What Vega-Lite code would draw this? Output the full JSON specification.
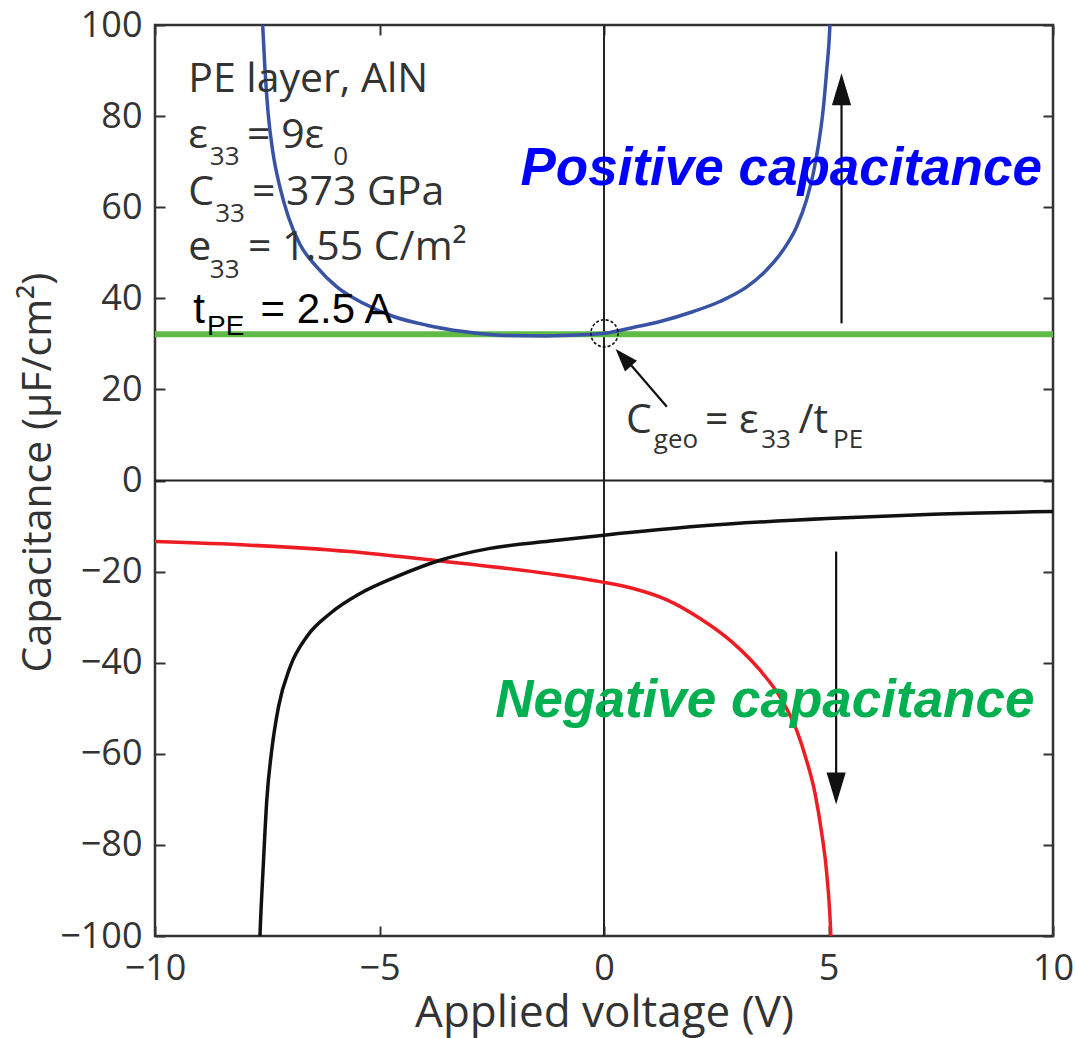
{
  "$schema": "https://vega.github.io/schema/vega-lite/v6.json",
  "width": 898,
  "height": 911,
  "autosize": "none",
  "padding": {"left": 155, "top": 25, "right": 22, "bottom": 102},
  "background": "white",
  "datasets": {
    "curves": [
      {"series": "pos", "V": -7.64, "C": 105},
      {"series": "pos", "V": -7.6, "C": 99.6},
      {"series": "pos", "V": -7.55, "C": 90.1},
      {"series": "pos", "V": -7.48, "C": 80.6},
      {"series": "pos", "V": -7.37, "C": 71.8},
      {"series": "pos", "V": -7.22, "C": 64.5},
      {"series": "pos", "V": -7.03, "C": 57.9},
      {"series": "pos", "V": -6.77, "C": 51.8},
      {"series": "pos", "V": -6.4, "C": 46.9},
      {"series": "pos", "V": -5.95, "C": 42.5},
      {"series": "pos", "V": -5.36, "C": 38.9},
      {"series": "pos", "V": -4.69, "C": 36.0},
      {"series": "pos", "V": -3.95, "C": 34.1},
      {"series": "pos", "V": -3.13, "C": 32.7},
      {"series": "pos", "V": -2.32, "C": 31.9},
      {"series": "pos", "V": -1.3, "C": 31.75},
      {"series": "pos", "V": -0.5, "C": 32.0},
      {"series": "pos", "V": 0.06, "C": 32.4},
      {"series": "pos", "V": 0.65, "C": 33.6},
      {"series": "pos", "V": 1.25, "C": 34.9},
      {"series": "pos", "V": 1.99, "C": 37.1},
      {"series": "pos", "V": 2.58, "C": 39.3},
      {"series": "pos", "V": 3.18, "C": 42.5},
      {"series": "pos", "V": 3.62, "C": 46.2},
      {"series": "pos", "V": 3.99, "C": 50.6},
      {"series": "pos", "V": 4.29, "C": 55.7},
      {"series": "pos", "V": 4.51, "C": 61.6},
      {"series": "pos", "V": 4.66, "C": 67.4},
      {"series": "pos", "V": 4.77, "C": 73.3},
      {"series": "pos", "V": 4.88, "C": 81.3},
      {"series": "pos", "V": 4.96, "C": 90.1},
      {"series": "pos", "V": 5.03, "C": 99.6},
      {"series": "pos", "V": 5.05, "C": 105},
      {"series": "red", "V": -10, "C": -13.4},
      {"series": "red", "V": -7.88, "C": -14.2},
      {"series": "red", "V": -5.66, "C": -15.6},
      {"series": "red", "V": -3.8, "C": -17.5},
      {"series": "red", "V": -1.2, "C": -20.5},
      {"series": "red", "V": -0.09, "C": -22.2},
      {"series": "red", "V": 0.65, "C": -23.7},
      {"series": "red", "V": 1.4, "C": -26.2},
      {"series": "red", "V": 2.14, "C": -30.3},
      {"series": "red", "V": 2.88, "C": -35.7},
      {"series": "red", "V": 3.47, "C": -41.6},
      {"series": "red", "V": 3.92, "C": -47.5},
      {"series": "red", "V": 4.29, "C": -54.8},
      {"series": "red", "V": 4.51, "C": -61.4},
      {"series": "red", "V": 4.7, "C": -68.7},
      {"series": "red", "V": 4.85, "C": -77.5},
      {"series": "red", "V": 4.96, "C": -86.2},
      {"series": "red", "V": 5.05, "C": -99.4},
      {"series": "red", "V": 5.07, "C": -105},
      {"series": "black", "V": -7.68, "C": -105},
      {"series": "black", "V": -7.66, "C": -99.4},
      {"series": "black", "V": -7.59, "C": -84.8},
      {"series": "black", "V": -7.51, "C": -70.1},
      {"series": "black", "V": -7.4, "C": -59.2},
      {"series": "black", "V": -7.25, "C": -49.7},
      {"series": "black", "V": -6.99, "C": -40.9},
      {"series": "black", "V": -6.62, "C": -34.3},
      {"series": "black", "V": -6.1, "C": -29.2},
      {"series": "black", "V": -5.43, "C": -24.8},
      {"series": "black", "V": -4.62, "C": -21.1},
      {"series": "black", "V": -3.65, "C": -17.5},
      {"series": "black", "V": -2.54, "C": -14.9},
      {"series": "black", "V": -1.2, "C": -13.3},
      {"series": "black", "V": 0, "C": -12.0},
      {"series": "black", "V": 2.14, "C": -10.0},
      {"series": "black", "V": 5.1, "C": -8.3},
      {"series": "black", "V": 7.33, "C": -7.4},
      {"series": "black", "V": 10, "C": -6.8}
    ],
    "level": [{"C": 32.1}],
    "vzero": [{"V": 0}],
    "hzero": [{"C": 0}],
    "circle": [{"V": 0.01, "C": 32.3}],
    "arrows": [
      {"name": "up", "V": 5.29, "C": 34.5, "V2": 5.29, "C2": 84},
      {"name": "down", "V": 5.17, "C": -15.6, "V2": 5.17, "C2": -66},
      {"name": "diag", "V": 1.4, "C": 16.2, "V2": 0.5, "C2": 26.5}
    ],
    "heads": [
      {"name": "up", "V": 5.29, "C": 85.9},
      {"name": "down", "V": 5.17, "C": -67.6},
      {"name": "diag", "V": 0.43, "C": 27.0}
    ],
    "labels": [
      {"role": "body", "V": -9.26, "C": 85.4, "text": "PE layer, AlN"},
      {"role": "body", "V": -9.26, "C": 73.0, "text": "ε"},
      {"role": "sub", "V": -8.78, "C": 69.3, "text": "33"},
      {"role": "body", "V": -7.95, "C": 73.0, "text": "= 9ε"},
      {"role": "sub", "V": -6.03, "C": 69.3, "text": "0"},
      {"role": "body", "V": -9.26, "C": 60.5, "text": "C"},
      {"role": "sub", "V": -8.66, "C": 56.8, "text": "33"},
      {"role": "body", "V": -7.84, "C": 60.5, "text": "= 373 GPa"},
      {"role": "body", "V": -9.26, "C": 48.4, "text": "e"},
      {"role": "sub", "V": -8.78, "C": 44.5, "text": "33"},
      {"role": "body", "V": -7.93, "C": 48.4, "text": "= 1.55 C/m²"},
      {"role": "body", "V": 0.49, "C": 10.4, "text": "C"},
      {"role": "sub", "V": 1.11, "C": 7.1, "text": "geo"},
      {"role": "body", "V": 2.25, "C": 10.4, "text": "= ε"},
      {"role": "sub", "V": 3.5, "C": 7.1, "text": "33"},
      {"role": "body", "V": 4.33, "C": 10.4, "text": "/t"},
      {"role": "sub", "V": 5.1, "C": 7.1, "text": "PE"},
      {"role": "abody", "V": -9.15, "C": 34.6, "text": "t"},
      {"role": "asub", "V": -8.84, "C": 31.9, "text": "PE"},
      {"role": "abody", "V": -7.65, "C": 34.6, "text": "= 2.5 A"},
      {"role": "pos", "V": -1.86, "C": 64.9, "text": "Positive capacitance"},
      {"role": "neg", "V": -2.42, "C": -52.0, "text": "Negative capacitance"}
    ]
  },
  "resolve": {"axis": {"x": "independent", "y": "independent"}},
  "layer": [
    {
      "data": {"name": "vzero"},
      "mark": {"type": "rule", "color": "#222", "strokeWidth": 2},
      "encoding": {
        "x": {"field": "V", "type": "quantitative", "scale": {"domain": [-10, 10], "nice": false, "zero": false},
          "axis": {"orient": "top", "labels": false, "title": null, "values": [-10, -5, 0, 5, 10]}}
      }
    },
    {
      "data": {"name": "hzero"},
      "mark": {"type": "rule", "color": "#222", "strokeWidth": 2},
      "encoding": {
        "y": {"field": "C", "type": "quantitative", "scale": {"domain": [-100, 100], "nice": false, "zero": false},
          "axis": {"orient": "right", "labels": false, "title": null, "values": [-100, -80, -60, -40, -20, 0, 20, 40, 60, 80, 100]}}
      }
    },
    {
      "data": {"name": "level"},
      "mark": {"type": "rule", "color": "#5fba46", "strokeWidth": 6},
      "encoding": {
        "y": {"field": "C", "type": "quantitative", "scale": {"domain": [-100, 100], "nice": false, "zero": false}, "axis": null}
      }
    },
    {
      "data": {"name": "curves"},
      "mark": {"type": "line", "strokeWidth": 3.5, "clip": true, "interpolate": "monotone"},
      "encoding": {
        "x": {"field": "V", "type": "quantitative", "scale": {"domain": [-10, 10], "nice": false, "zero": false},
          "axis": {"orient": "bottom", "values": [-10, -5, 0, 5, 10], "title": "Applied voltage (V)", "titleFontSize": 44, "labelPadding": 25, "labelFlush": false, "labelOverlap": false, "titleY": 90, "titleBaseline": "alphabetic"}},
        "y": {"field": "C", "type": "quantitative", "scale": {"domain": [-100, 100], "nice": false, "zero": false},
          "axis": {"orient": "left", "values": [-100, -80, -60, -40, -20, 0, 20, 40, 60, 80, 100], "title": "Capacitance (µF/cm²)", "labelPadding": 23, "labelOverlap": false, "titleX": -105, "titleY": 447, "titleBaseline": "alphabetic", "titleAngle": 270}},
        "color": {"field": "series", "type": "nominal", "scale": {"domain": ["red", "pos", "black"], "range": ["#ee1d23", "#3853a4", "#111111"]}, "legend": null},
        "order": {"field": "V", "type": "quantitative"}
      }
    },
    {
      "data": {"name": "circle"},
      "mark": {"type": "point", "shape": "circle", "size": 740, "filled": false, "stroke": "#111", "strokeWidth": 1.6, "strokeDash": [3, 2], "opacity": 1},
      "encoding": {
        "x": {"field": "V", "type": "quantitative", "scale": {"domain": [-10, 10], "nice": false, "zero": false}, "axis": null},
        "y": {"field": "C", "type": "quantitative", "scale": {"domain": [-100, 100], "nice": false, "zero": false}, "axis": null}
      }
    },
    {
      "data": {"name": "arrows"},
      "mark": {"type": "rule", "color": "#111", "strokeWidth": 2.2},
      "encoding": {
        "x": {"field": "V", "type": "quantitative", "scale": {"domain": [-10, 10], "nice": false, "zero": false}, "axis": null},
        "y": {"field": "C", "type": "quantitative", "scale": {"domain": [-100, 100], "nice": false, "zero": false}, "axis": null},
        "x2": {"field": "V2"},
        "y2": {"field": "C2"}
      }
    },
    {
      "data": {"name": "heads"},
      "transform": [{"filter": "datum.name === 'up'"}],
      "mark": {"type": "point", "shape": "M0,-1L0.6,1L-0.6,1Z", "size": 1024, "filled": true, "color": "#111", "opacity": 1},
      "encoding": {
        "x": {"field": "V", "type": "quantitative", "scale": {"domain": [-10, 10], "nice": false, "zero": false}, "axis": null},
        "y": {"field": "C", "type": "quantitative", "scale": {"domain": [-100, 100], "nice": false, "zero": false}, "axis": null}
      }
    },
    {
      "data": {"name": "heads"},
      "transform": [{"filter": "datum.name === 'down'"}],
      "mark": {"type": "point", "shape": "M0,1L0.6,-1L-0.6,-1Z", "size": 1024, "filled": true, "color": "#111", "opacity": 1},
      "encoding": {
        "x": {"field": "V", "type": "quantitative", "scale": {"domain": [-10, 10], "nice": false, "zero": false}, "axis": null},
        "y": {"field": "C", "type": "quantitative", "scale": {"domain": [-100, 100], "nice": false, "zero": false}, "axis": null}
      }
    },
    {
      "data": {"name": "heads"},
      "transform": [{"filter": "datum.name === 'diag'"}],
      "mark": {"type": "point", "shape": "M0,-1L0.7,1L-0.7,1Z", "size": 530, "angle": -42, "filled": true, "color": "#111", "opacity": 1},
      "encoding": {
        "x": {"field": "V", "type": "quantitative", "scale": {"domain": [-10, 10], "nice": false, "zero": false}, "axis": null},
        "y": {"field": "C", "type": "quantitative", "scale": {"domain": [-100, 100], "nice": false, "zero": false}, "axis": null}
      }
    },
    {
      "data": {"name": "labels"},
      "transform": [{"filter": "datum.role === 'body'"}],
      "mark": {"type": "text", "font": "Open Sans", "fontSize": 41, "color": "#333", "align": "left", "baseline": "alphabetic"},
      "encoding": {
        "x": {"field": "V", "type": "quantitative", "scale": {"domain": [-10, 10], "nice": false, "zero": false}, "axis": null},
        "y": {"field": "C", "type": "quantitative", "scale": {"domain": [-100, 100], "nice": false, "zero": false}, "axis": null},
        "text": {"field": "text"}
      }
    },
    {
      "data": {"name": "labels"},
      "transform": [{"filter": "datum.role === 'sub'"}],
      "mark": {"type": "text", "font": "Open Sans", "fontSize": 26, "color": "#333", "align": "left", "baseline": "alphabetic"},
      "encoding": {
        "x": {"field": "V", "type": "quantitative", "scale": {"domain": [-10, 10], "nice": false, "zero": false}, "axis": null},
        "y": {"field": "C", "type": "quantitative", "scale": {"domain": [-100, 100], "nice": false, "zero": false}, "axis": null},
        "text": {"field": "text"}
      }
    },
    {
      "data": {"name": "labels"},
      "transform": [{"filter": "datum.role === 'abody'"}],
      "mark": {"type": "text", "font": "Liberation Sans", "fontSize": 42, "color": "#000", "align": "left", "baseline": "alphabetic"},
      "encoding": {
        "x": {"field": "V", "type": "quantitative", "scale": {"domain": [-10, 10], "nice": false, "zero": false}, "axis": null},
        "y": {"field": "C", "type": "quantitative", "scale": {"domain": [-100, 100], "nice": false, "zero": false}, "axis": null},
        "text": {"field": "text"}
      }
    },
    {
      "data": {"name": "labels"},
      "transform": [{"filter": "datum.role === 'asub'"}],
      "mark": {"type": "text", "font": "Liberation Sans", "fontSize": 28, "color": "#000", "align": "left", "baseline": "alphabetic"},
      "encoding": {
        "x": {"field": "V", "type": "quantitative", "scale": {"domain": [-10, 10], "nice": false, "zero": false}, "axis": null},
        "y": {"field": "C", "type": "quantitative", "scale": {"domain": [-100, 100], "nice": false, "zero": false}, "axis": null},
        "text": {"field": "text"}
      }
    },
    {
      "data": {"name": "labels"},
      "transform": [{"filter": "datum.role === 'pos'"}],
      "mark": {"type": "text", "font": "Liberation Sans", "fontSize": 53, "fontWeight": "bold", "fontStyle": "italic", "color": "#0000ff", "align": "left", "baseline": "alphabetic"},
      "encoding": {
        "x": {"field": "V", "type": "quantitative", "scale": {"domain": [-10, 10], "nice": false, "zero": false}, "axis": null},
        "y": {"field": "C", "type": "quantitative", "scale": {"domain": [-100, 100], "nice": false, "zero": false}, "axis": null},
        "text": {"field": "text"}
      }
    },
    {
      "data": {"name": "labels"},
      "transform": [{"filter": "datum.role === 'neg'"}],
      "mark": {"type": "text", "font": "Liberation Sans", "fontSize": 53, "fontWeight": "bold", "fontStyle": "italic", "color": "#00b050", "align": "left", "baseline": "alphabetic"},
      "encoding": {
        "x": {"field": "V", "type": "quantitative", "scale": {"domain": [-10, 10], "nice": false, "zero": false}, "axis": null},
        "y": {"field": "C", "type": "quantitative", "scale": {"domain": [-100, 100], "nice": false, "zero": false}, "axis": null},
        "text": {"field": "text"}
      }
    }
  ],
  "config": {
    "view": {"stroke": "#333", "strokeWidth": 2.5},
    "axis": {
      "domain": false,
      "grid": false,
      "ticks": true,
      "tickSize": -10,
      "tickWidth": 2,
      "tickColor": "#333",
      "labelFont": "Open Sans",
      "labelFontSize": 36,
      "labelColor": "#333",
      "titleFont": "Open Sans",
      "titleFontSize": 41,
      "titleColor": "#333",
      "titleFontWeight": "normal"
    }
  }
}
